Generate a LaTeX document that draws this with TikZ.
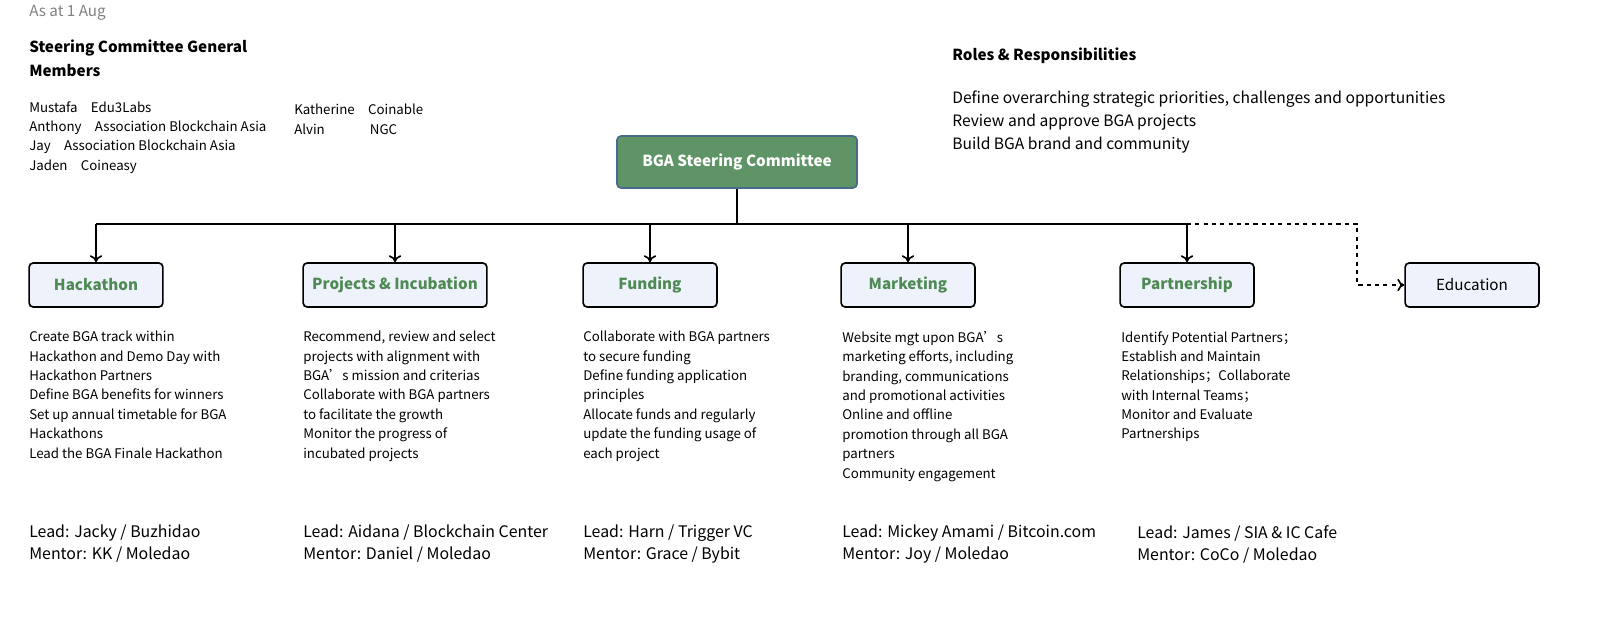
\documentclass[tikz,border=0pt]{standalone}
\usepackage{fontspec}
\setmainfont{Noto Sans CJK SC}
\usetikzlibrary{positioning,arrows.meta}
\definecolor{rootgreen}{HTML}{5E9466}
\definecolor{rootblue}{HTML}{4A6A8C}
\definecolor{teamfill}{HTML}{EEF2FB}
\definecolor{teamtext}{HTML}{4F8A55}
\begin{document}
\begin{tikzpicture}[x=0.0254cm,y=-0.0254cm]
    \tikzstyle{team} = [rectangle, rounded corners=3pt, draw, line width=1.2pt, fill=teamfill, minimum width=3.4cm, minimum height=1.12cm, font=\fontsize{11}{13}\selectfont\bfseries, text=teamtext]
    \tikzstyle{duty} = [anchor=north west, align=left, inner sep=0pt, font=\fontsize{9.6}{14}\selectfont]
    \tikzstyle{lead} = [anchor=north west, align=left, inner sep=0pt, font=\fontsize{11.5}{15.8}\selectfont]
    \tikzstyle{arrow} = [line width=1.2pt, -{To[length=5pt,width=9pt]}]

    \useasboundingbox (0,0) rectangle (1600,642);

    % header texts
    \node [anchor=west, inner sep=0pt, text=gray, font=\fontsize{11}{13}\selectfont] (asat) at (29,13) {As at 1 Aug};
    \node [anchor=north west, align=left, inner sep=0pt, font=\fontsize{11}{17}\selectfont\bfseries] (sctitle) at (29,40) {Steering Committee General\\Members};
    \node [duty] (members) at (29,101) {Mustafa\quad Edu3Labs\\Anthony\quad Association Blockchain Asia\\Jay\quad Association Blockchain Asia\\Jaden\quad Coineasy};
    \node [duty] (members2) at (294,104) {Katherine\quad Coinable\\Alvin\hspace{3.4em}NGC};
    \node [anchor=west, inner sep=0pt, font=\fontsize{11}{13}\selectfont\bfseries] (roles) at (952,56) {Roles \& Responsibilities};
    \node [anchor=north west, align=left, inner sep=0pt, font=\fontsize{11.3}{16.3}\selectfont] (rolelist) at (952,91) {Define overarching strategic priorities, challenges and opportunities\\Review and approve BGA projects\\Build BGA brand and community};

    % committee and teams
    \node [rectangle, rounded corners=3pt, draw=rootblue, line width=1.2pt, fill=rootgreen, text=white, minimum width=6.1cm, minimum height=1.32cm, font=\fontsize{11}{13}\selectfont\bfseries] (root) at (737,162) {BGA Steering Committee};
    \node [team] (hack) at (96,285) {Hackathon};
    \node [team, minimum width=4.67cm] (proj) at (395,285) {Projects \& Incubation};
    \node [team] (fund) at (650,285) {Funding};
    \node [team] (mkt) at (908,285) {Marketing};
    \node [team] (part) at (1187,285) {Partnership};
    \node [team, font=\fontsize{11}{13}\selectfont, text=black] (edu) at (1472,285) {Education};

    \coordinate (bus) at (737,224);
    \coordinate (busl) at (96,224);
    \coordinate (busr) at (1187,224);
    \coordinate (dashturn) at (1357,224);
    \draw [line width=1.2pt] (root) -- (bus);
    \draw [line width=1.2pt] (busl) -- (busr);
    \foreach \t in {hack,proj,fund,mkt,part}
        \draw [arrow] (\t.north |- bus) -- (\t);
    \draw [arrow, dashed] (busr) -- (dashturn) |- (edu);

    % duties
    \node [duty] (hackd) at (29,331) {Create BGA track within\\Hackathon and Demo Day with\\Hackathon Partners\\Define BGA benefits for winners\\Set up annual timetable for BGA\\Hackathons\\Lead the BGA Finale Hackathon};
    \node [duty] (projd) at (303,331) {Recommend, review and select\\projects with alignment with\\BGA’s mission and criterias\\Collaborate with BGA partners\\to facilitate the growth\\Monitor the progress of\\incubated projects};
    \node [duty] (fundd) at (583,331) {Collaborate with BGA partners\\to secure funding\\Define funding application\\principles\\Allocate funds and regularly\\update the funding usage of\\each project};
    \node [duty] (mktd) at (842,331) {Website mgt upon BGA’s\\marketing efforts, including\\branding, communications\\and promotional activities\\Online and offline\\promotion through all BGA\\partners\\Community engagement};
    \node [duty] (partd) at (1121,331) {Identify Potential Partners；\\Establish and Maintain\\Relationships；Collaborate\\with Internal Teams；\\Monitor and Evaluate\\Partnerships};

    % leads
    \node [lead] (hackl) at (29,525) {Lead: Jacky / Buzhidao\\Mentor: KK / Moledao};
    \node [lead] (projl) at (303,525) {Lead: Aidana / Blockchain Center\\Mentor: Daniel / Moledao};
    \node [lead] (fundl) at (583,525) {Lead: Harn / Trigger VC\\Mentor: Grace / Bybit};
    \node [lead] (mktl) at (842,525) {Lead: Mickey Amami / Bitcoin.com\\Mentor: Joy / Moledao};
    \node [lead] (partl) at (1137,525) {Lead: James / SIA \& IC Cafe\\Mentor: CoCo / Moledao};
\end{tikzpicture}
\end{document}
